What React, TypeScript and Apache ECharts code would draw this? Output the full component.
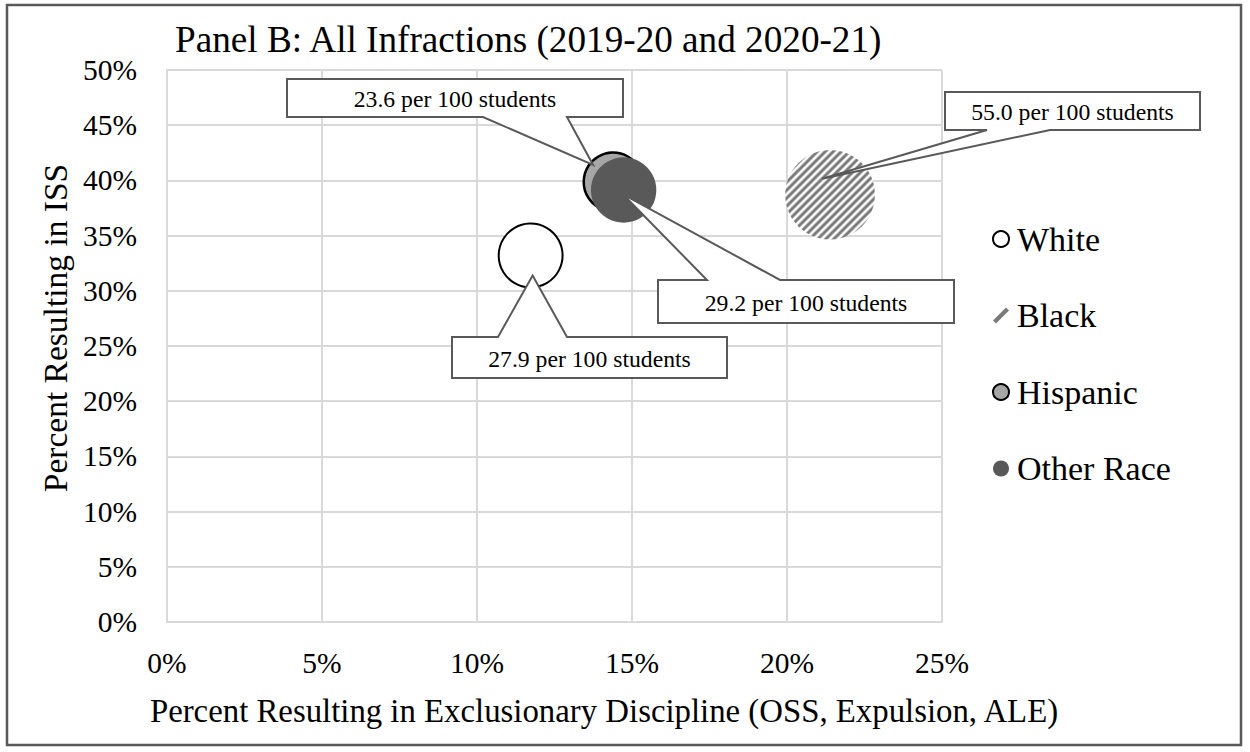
import React, { useEffect, useRef } from "react";
import * as echarts from "echarts";

// ---- data ----
const groups = ["White", "Black", "Hispanic", "Other Race"];
const exclusionaryPct = [11.73, 21.39, 14.39, 14.73]; // x: % resulting in exclusionary discipline
const issPct = [33.2, 38.7, 39.86, 39.13]; // y: % resulting in ISS
const ratePer100 = [27.9, 55.0, 23.6, 29.2]; // infractions per 100 students (bubble size)
const xTicks = [0, 5, 10, 15, 20, 25];
const yTicks = [0, 5, 10, 15, 20, 25, 30, 35, 40, 45, 50];

const TITLE = "Panel B: All Infractions (2019-20 and 2020-21)";
const X_NAME = "Percent Resulting in Exclusionary Discipline (OSS, Expulsion, ALE)";
const Y_NAME = "Percent Resulting in ISS";

const SERIF = "'Liberation Serif', 'Times New Roman', serif";
const SIZE_K = 12.1;
const bubbleSize = (rate: number) => SIZE_K * Math.sqrt(rate);

function hatchPattern(symbolSize: number) {
  // tile drawn at 4x resolution; symbols are unit paths scaled by size/2, so undo that scale
  const R = 4;
  const T = 8 * R;
  const c = document.createElement("canvas");
  c.width = T;
  c.height = T;
  const g = c.getContext("2d")!;
  g.fillStyle = "#ffffff";
  g.fillRect(0, 0, T, T);
  g.strokeStyle = "#7a7a7a";
  g.lineWidth = 3 * R;
  g.beginPath();
  g.moveTo(-R, T + R);
  g.lineTo(T + R, -R);
  g.moveTo(-2 * R, 2 * R);
  g.lineTo(2 * R, -2 * R);
  g.moveTo(T - 2 * R, T + 2 * R);
  g.lineTo(T + 2 * R, T - 2 * R);
  g.stroke();
  const s = 2 / symbolSize / R;
  return { image: c, repeat: "repeat", imageWidth: T, imageHeight: T, scaleX: s, scaleY: s } as any;
}

export default function App() {
  const ref = useRef<HTMLDivElement>(null);

  useEffect(() => {
    document.body.style.margin = "0";
    const chart = echarts.init(ref.current!, undefined, { renderer: "svg" });

    const styles: any[] = [
      { color: "#ffffff", borderColor: "#000000", borderWidth: 2 },
      { color: hatchPattern(bubbleSize(ratePer100[1])), borderWidth: 0 },
      { color: "#a6a6a6", borderColor: "#000000", borderWidth: 2.5 },
      { color: "#595959", borderWidth: 0 },
    ];

    const series = groups.map((g, i) => ({
      name: g,
      type: "scatter",
      symbol: "circle",
      data: [[exclusionaryPct[i], issPct[i], ratePer100[i]]],
      symbolSize: (v: number[]) => bubbleSize(v[2]),
      itemStyle: { ...styles[i], opacity: 1 },
      emphasis: { disabled: true },
      z: 2 + i,
    }));

    const gridLine = { lineStyle: { color: "#d9d9d9", width: 2 } };

    chart.setOption({
      animation: false,
      title: {
        text: TITLE,
        left: 175,
        top: 21,
        padding: 0,
        textStyle: { fontFamily: SERIF, fontSize: 37.2, fontWeight: "normal", color: "#000" },
      },
      legend: {
        orient: "vertical",
        left: 987,
        top: 217,
        itemWidth: 16,
        itemHeight: 16,
        itemGap: 42.5,
        selectedMode: false,
        textStyle: { fontFamily: SERIF, fontSize: 34, color: "#000", lineHeight: 34, padding: [0, 0, 0, 3] },
        data: groups.map((g, i) =>
          i === 1
            ? {
                name: g,
                icon: "path://M0,13 L3,16 L16,3 L13,0 Z",
                itemStyle: { color: "#7a7a7a", borderWidth: 0 },
              }
            : { name: g, icon: "circle" }
        ),
      },
      grid: { left: 167, top: 70, width: 775, height: 552, containLabel: false },
      xAxis: {
        type: "value",
        min: xTicks[0],
        max: xTicks[xTicks.length - 1],
        interval: xTicks[1] - xTicks[0],
        name: X_NAME,
        nameLocation: "middle",
        nameGap: 72,
        nameTextStyle: { fontFamily: SERIF, fontSize: 32.8, color: "#000", padding: [0, 0, 0, 99] },
        axisLine: { show: true, ...gridLine },
        axisTick: { show: false },
        splitLine: { show: true, ...gridLine },
        axisLabel: { formatter: "{value}%", fontFamily: SERIF, fontSize: 29.5, color: "#000", margin: 26 },
      },
      yAxis: {
        type: "value",
        min: yTicks[0],
        max: yTicks[yTicks.length - 1],
        interval: yTicks[1] - yTicks[0],
        name: Y_NAME,
        nameLocation: "middle",
        nameRotate: 90,
        nameGap: 94,
        nameTextStyle: { fontFamily: SERIF, fontSize: 33.5, color: "#000", padding: [0, 0, 0, 36] },
        axisLine: { show: true, ...gridLine },
        axisTick: { show: false },
        splitLine: { show: true, ...gridLine },
        axisLabel: { formatter: "{value}%", fontFamily: SERIF, fontSize: 29.5, color: "#000", margin: 30 },
      },
      series,
    });

    // callout layout: box rect, wedge base and which side, tip offset from bubble centre (px)
    const callouts = [
      { i: 0, box: [452, 337, 727, 378], base: [498, 567], side: "top", off: [2, 20] },
      { i: 1, box: [945, 92, 1200, 130], base: [987, 1050], side: "bottom", off: [-8, -16] },
      { i: 2, box: [287, 79, 623, 117], base: [483, 567], side: "bottom", off: [-20, -17] },
      { i: 3, box: [658, 280, 954, 323], base: [707, 780], side: "top", off: [-1, 4] },
    ];

    const graphics: any[] = [
      {
        type: "rect",
        shape: { x: 7, y: 5, width: 1234, height: 740 },
        style: { fill: "none", stroke: "#595959", lineWidth: 2.5 },
        silent: true,
        z: 0,
      },
    ];

    callouts.forEach((c) => {
      const p = chart.convertToPixel({ gridIndex: 0 }, [exclusionaryPct[c.i], issPct[c.i]]) as number[];
      const tip = [p[0] + c.off[0], p[1] + c.off[1]];
      const [x1, y1, x2, y2] = c.box;
      const [a, b] = c.base;
      const pts =
        c.side === "top"
          ? [[x1, y1], [a, y1], tip, [b, y1], [x2, y1], [x2, y2], [x1, y2]]
          : [[x1, y1], [x2, y1], [x2, y2], [b, y2], tip, [a, y2], [x1, y2]];
      graphics.push({
        type: "polygon",
        shape: { points: pts },
        style: { fill: "#ffffff", stroke: "#595959", lineWidth: 2 },
        z: 100,
        silent: true,
      });
      graphics.push({
        type: "text",
        x: (x1 + x2) / 2,
        y: (y1 + y2) / 2 + 1,
        style: {
          text: `${ratePer100[c.i].toFixed(1)} per 100 students`,
          fontFamily: SERIF,
          fontSize: 23.7,
          fill: "#000",
          align: "center",
          verticalAlign: "middle",
        },
        z: 101,
        silent: true,
      });
    });

    chart.setOption({ graphic: graphics });

    return () => chart.dispose();
  }, []);

  return <div ref={ref} style={{ width: 1250, height: 752 }} />;
}
